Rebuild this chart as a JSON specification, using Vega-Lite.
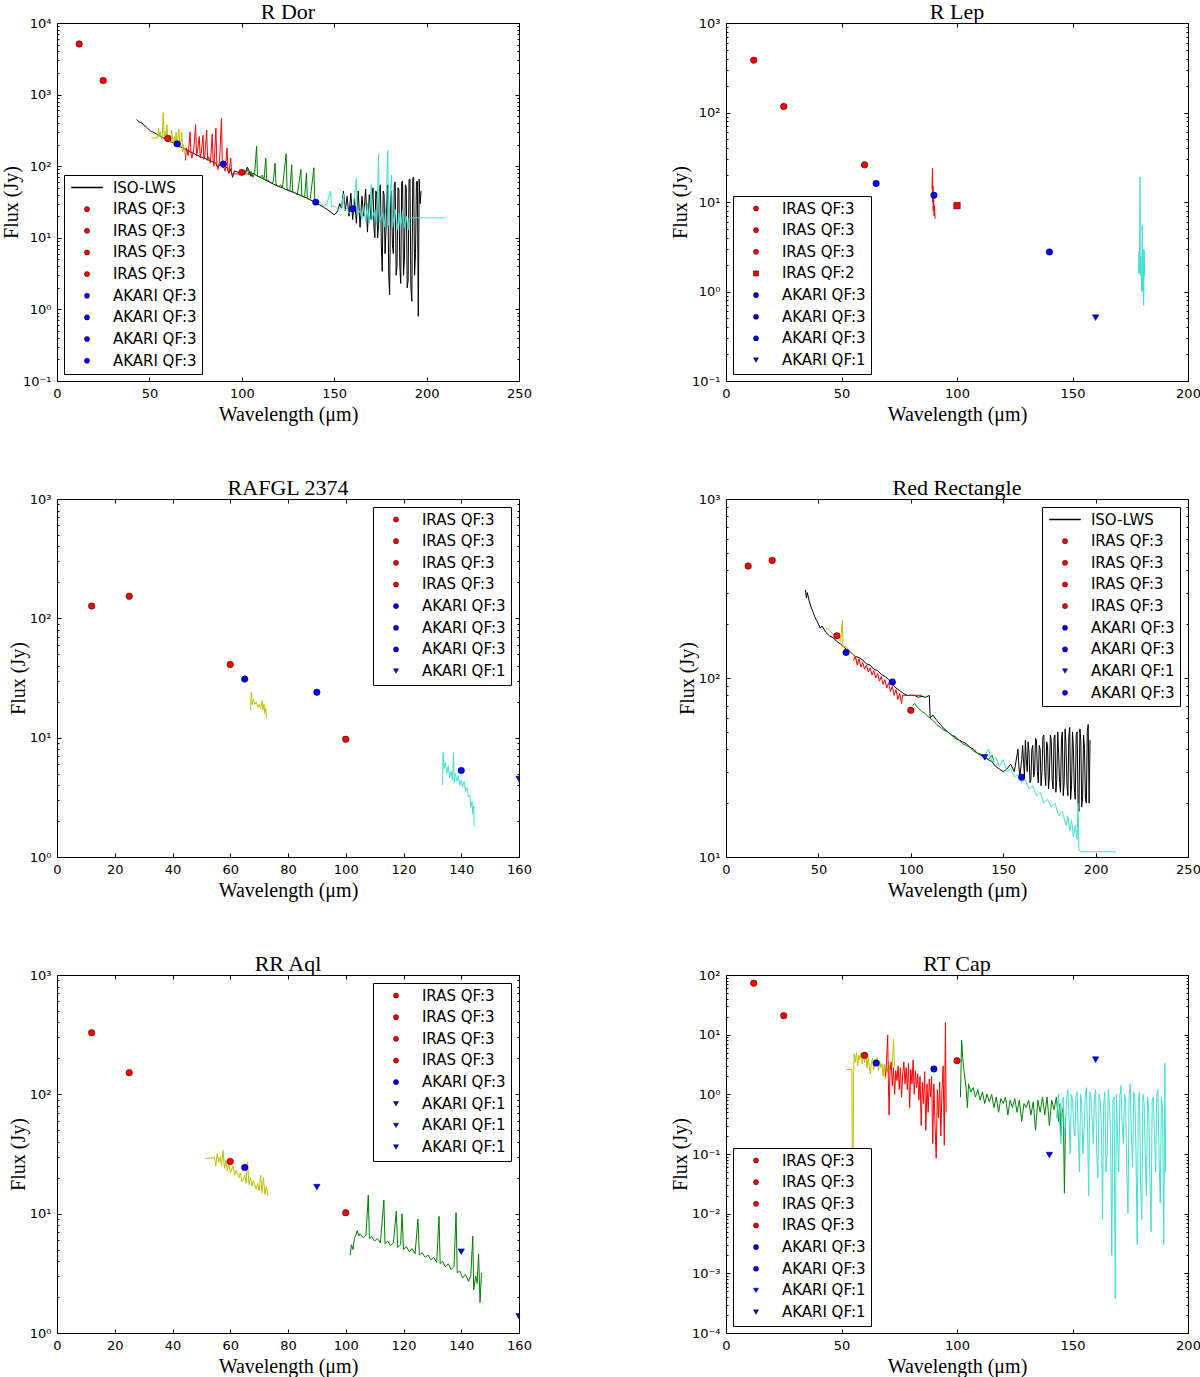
{
  "$schema": "https://vega.github.io/schema/vega-lite/v6.json",
  "background": "white",
  "autosize": {"type": "pad"},
  "padding": {"left": 0, "top": 0, "right": 0, "bottom": 0},
  "columns": 2,
  "bounds": "flush",
  "spacing": {"column": 207, "row": 118},
  "resolve": {"scale": {"x": "independent", "y": "independent", "color": "independent", "shape": "independent"}, "legend": {"color": "independent", "shape": "independent"}},
  "datasets": {
    "spec": [
      {"p":"rdor","s":"a","x":43,"y":450},{"p":"rdor","s":"a","x":43.5,"y":440},{"p":"rdor","s":"a","x":44,"y":420},{"p":"rdor","s":"a","x":45,"y":410},{"p":"rdor","s":"a","x":46,"y":400},{"p":"rdor","s":"a","x":47,"y":370},{"p":"rdor","s":"a","x":48,"y":360},{"p":"rdor","s":"a","x":49,"y":340},{"p":"rdor","s":"a","x":50,"y":320},{"p":"rdor","s":"a","x":51,"y":305},{"p":"rdor","s":"a","x":52,"y":300},{"p":"rdor","s":"a","x":53,"y":290},{"p":"rdor","s":"a","x":54,"y":280},{"p":"rdor","s":"a","x":55,"y":270},{"p":"rdor","s":"a","x":56,"y":262},{"p":"rdor","s":"a","x":57,"y":255},{"p":"rdor","s":"a","x":58,"y":245},{"p":"rdor","s":"a","x":60,"y":232},{"p":"rdor","s":"a","x":62,"y":218},{"p":"rdor","s":"a","x":64,"y":205},{"p":"rdor","s":"a","x":66,"y":192},{"p":"rdor","s":"a","x":68,"y":180},{"p":"rdor","s":"a","x":70,"y":170},{"p":"rdor","s":"a","x":72,"y":160},{"p":"rdor","s":"a","x":74,"y":150},{"p":"rdor","s":"a","x":76,"y":142},{"p":"rdor","s":"a","x":78,"y":135},{"p":"rdor","s":"a","x":80,"y":128},{"p":"rdor","s":"a","x":82,"y":122},{"p":"rdor","s":"a","x":84,"y":116},{"p":"rdor","s":"a","x":86,"y":110},{"p":"rdor","s":"a","x":87,"y":95},{"p":"rdor","s":"a","x":88,"y":105},{"p":"rdor","s":"a","x":90,"y":100},{"p":"rdor","s":"a","x":92,"y":96},{"p":"rdor","s":"a","x":93,"y":80},{"p":"rdor","s":"a","x":94,"y":92},{"p":"rdor","s":"a","x":95,"y":70},{"p":"rdor","s":"a","x":96,"y":86},{"p":"rdor","s":"a","x":98,"y":82},{"p":"rdor","s":"a","x":100,"y":85},{"p":"rdor","s":"a","x":101,"y":78},{"p":"rdor","s":"a","x":102,"y":83},{"p":"rdor","s":"a","x":103,"y":97},{"p":"rdor","s":"a","x":104,"y":85},{"p":"rdor","s":"a","x":105,"y":72},{"p":"rdor","s":"a","x":106,"y":80},{"p":"rdor","s":"a","x":108,"y":74},{"p":"rdor","s":"a","x":110,"y":70},{"p":"rdor","s":"a","x":112,"y":66},{"p":"rdor","s":"a","x":114,"y":62},{"p":"rdor","s":"a","x":116,"y":58},{"p":"rdor","s":"a","x":118,"y":55},{"p":"rdor","s":"a","x":120,"y":52},{"p":"rdor","s":"a","x":122,"y":50},{"p":"rdor","s":"a","x":124,"y":47},{"p":"rdor","s":"a","x":126,"y":45},{"p":"rdor","s":"a","x":128,"y":43},{"p":"rdor","s":"a","x":130,"y":41},{"p":"rdor","s":"a","x":132,"y":39},{"p":"rdor","s":"a","x":134,"y":37},{"p":"rdor","s":"a","x":136,"y":35},{"p":"rdor","s":"a","x":138,"y":33},{"p":"rdor","s":"a","x":140,"y":31},{"p":"rdor","s":"a","x":142,"y":29},{"p":"rdor","s":"a","x":144,"y":27},{"p":"rdor","s":"a","x":146,"y":25},{"p":"rdor","s":"a","x":148,"y":23},{"p":"rdor","s":"a","x":150,"y":21},{"p":"rdor","s":"a","x":151,"y":22},{"p":"rdor","s":"a","x":152,"y":24},{"p":"rdor","s":"a","x":153,"y":30},{"p":"rdor","s":"a","x":154,"y":26},{"p":"rdor","s":"a","x":155,"y":45},{"p":"rdor","s":"a","x":156,"y":24},{"p":"rdor","s":"a","x":157,"y":38},{"p":"rdor","s":"a","x":158,"y":20},{"p":"rdor","s":"a","x":159,"y":42},{"p":"rdor","s":"a","x":160,"y":18},{"p":"rdor","s":"a","x":161,"y":35},{"p":"rdor","s":"a","x":162,"y":16},{"p":"rdor","s":"a","x":163,"y":45},{"p":"rdor","s":"a","x":164,"y":14},{"p":"rdor","s":"a","x":165,"y":38},{"p":"rdor","s":"a","x":166,"y":20},{"p":"rdor","s":"a","x":167,"y":48},{"p":"rdor","s":"a","x":168,"y":12},{"p":"rdor","s":"a","x":169,"y":40},{"p":"rdor","s":"a","x":170,"y":18},{"p":"rdor","s":"a","x":170.5,"y":40},{"p":"rdor","s":"a","x":171,"y":50},{"p":"rdor","s":"a","x":171.5,"y":14},{"p":"rdor","s":"a","x":172,"y":10},{"p":"rdor","s":"a","x":172.5,"y":45},{"p":"rdor","s":"a","x":173,"y":42},{"p":"rdor","s":"a","x":173.5,"y":10},{"p":"rdor","s":"a","x":174,"y":15},{"p":"rdor","s":"a","x":174.5,"y":50},{"p":"rdor","s":"a","x":175,"y":55},{"p":"rdor","s":"a","x":175.5,"y":8},{"p":"rdor","s":"a","x":176,"y":3.4},{"p":"rdor","s":"a","x":176.5,"y":45},{"p":"rdor","s":"a","x":177,"y":40},{"p":"rdor","s":"a","x":177.5,"y":6},{"p":"rdor","s":"a","x":178,"y":12},{"p":"rdor","s":"a","x":178.5,"y":50},{"p":"rdor","s":"a","x":179,"y":55},{"p":"rdor","s":"a","x":179.5,"y":3},{"p":"rdor","s":"a","x":180,"y":1.6},{"p":"rdor","s":"a","x":180.5,"y":40},{"p":"rdor","s":"a","x":181,"y":45},{"p":"rdor","s":"a","x":181.5,"y":8},{"p":"rdor","s":"a","x":182,"y":6},{"p":"rdor","s":"a","x":182.5,"y":55},{"p":"rdor","s":"a","x":183,"y":60},{"p":"rdor","s":"a","x":183.5,"y":3},{"p":"rdor","s":"a","x":184,"y":4},{"p":"rdor","s":"a","x":184.5,"y":50},{"p":"rdor","s":"a","x":185,"y":48},{"p":"rdor","s":"a","x":185.5,"y":4},{"p":"rdor","s":"a","x":186,"y":2.3},{"p":"rdor","s":"a","x":186.5,"y":60},{"p":"rdor","s":"a","x":187,"y":62},{"p":"rdor","s":"a","x":187.5,"y":3},{"p":"rdor","s":"a","x":188,"y":5},{"p":"rdor","s":"a","x":188.5,"y":55},{"p":"rdor","s":"a","x":189,"y":50},{"p":"rdor","s":"a","x":189.5,"y":2},{"p":"rdor","s":"a","x":190,"y":2.5},{"p":"rdor","s":"a","x":190.5,"y":65},{"p":"rdor","s":"a","x":191,"y":66},{"p":"rdor","s":"a","x":191.5,"y":2},{"p":"rdor","s":"a","x":192,"y":1.3},{"p":"rdor","s":"a","x":192.5,"y":68},{"p":"rdor","s":"a","x":193,"y":70},{"p":"rdor","s":"a","x":193.5,"y":3},{"p":"rdor","s":"a","x":194,"y":6},{"p":"rdor","s":"a","x":194.5,"y":60},{"p":"rdor","s":"a","x":195,"y":62},{"p":"rdor","s":"a","x":195.5,"y":0.8},{"p":"rdor","s":"a","x":196,"y":66},{"p":"rdor","s":"a","x":196.5,"y":30},{"p":"rdor","s":"a","x":197,"y":45},
      {"p":"rdor","s":"b","x":51,"y":245},{"p":"rdor","s":"b","x":54.5,"y":250},{"p":"rdor","s":"b","x":55,"y":340},{"p":"rdor","s":"b","x":55.5,"y":260},{"p":"rdor","s":"b","x":56,"y":300},{"p":"rdor","s":"b","x":56.5,"y":240},{"p":"rdor","s":"b","x":57,"y":280},{"p":"rdor","s":"b","x":57.5,"y":560},{"p":"rdor","s":"b","x":58,"y":250},{"p":"rdor","s":"b","x":58.5,"y":310},{"p":"rdor","s":"b","x":59,"y":230},{"p":"rdor","s":"b","x":59.5,"y":380},{"p":"rdor","s":"b","x":60,"y":220},{"p":"rdor","s":"b","x":61,"y":270},{"p":"rdor","s":"b","x":61.5,"y":210},{"p":"rdor","s":"b","x":62,"y":320},{"p":"rdor","s":"b","x":63,"y":200},{"p":"rdor","s":"b","x":63.5,"y":260},{"p":"rdor","s":"b","x":64,"y":190},{"p":"rdor","s":"b","x":64.5,"y":300},{"p":"rdor","s":"b","x":65,"y":185},{"p":"rdor","s":"b","x":66,"y":330},{"p":"rdor","s":"b","x":66.5,"y":180},{"p":"rdor","s":"b","x":67,"y":220},{"p":"rdor","s":"b","x":67.5,"y":300},{"p":"rdor","s":"b","x":68,"y":160},{"p":"rdor","s":"b","x":68.5,"y":200},{"p":"rdor","s":"b","x":69,"y":150},
      {"p":"rdor","s":"c","x":69.5,"y":120},{"p":"rdor","s":"c","x":70,"y":180},{"p":"rdor","s":"c","x":71,"y":140},{"p":"rdor","s":"c","x":72,"y":300},{"p":"rdor","s":"c","x":72.5,"y":150},{"p":"rdor","s":"c","x":73,"y":130},{"p":"rdor","s":"c","x":74,"y":170},{"p":"rdor","s":"c","x":75,"y":380},{"p":"rdor","s":"c","x":75.5,"y":140},{"p":"rdor","s":"c","x":76,"y":160},{"p":"rdor","s":"c","x":77,"y":260},{"p":"rdor","s":"c","x":77.5,"y":130},{"p":"rdor","s":"c","x":78,"y":150},{"p":"rdor","s":"c","x":79,"y":270},{"p":"rdor","s":"c","x":79.5,"y":125},{"p":"rdor","s":"c","x":80,"y":140},{"p":"rdor","s":"c","x":81,"y":320},{"p":"rdor","s":"c","x":81.5,"y":120},{"p":"rdor","s":"c","x":82,"y":135},{"p":"rdor","s":"c","x":83,"y":110},{"p":"rdor","s":"c","x":84,"y":280},{"p":"rdor","s":"c","x":84.5,"y":115},{"p":"rdor","s":"c","x":85,"y":100},{"p":"rdor","s":"c","x":86,"y":340},{"p":"rdor","s":"c","x":86.5,"y":105},{"p":"rdor","s":"c","x":87,"y":90},{"p":"rdor","s":"c","x":88,"y":120},{"p":"rdor","s":"c","x":89,"y":465},{"p":"rdor","s":"c","x":89.5,"y":95},{"p":"rdor","s":"c","x":90,"y":100},{"p":"rdor","s":"c","x":91,"y":85},{"p":"rdor","s":"c","x":92,"y":180},{"p":"rdor","s":"c","x":92.5,"y":90},{"p":"rdor","s":"c","x":93,"y":80},{"p":"rdor","s":"c","x":94,"y":130},{"p":"rdor","s":"c","x":94.5,"y":78},{"p":"rdor","s":"c","x":95,"y":78},{"p":"rdor","s":"c","x":105,"y":78},
      {"p":"rdor","s":"d","x":102,"y":80},{"p":"rdor","s":"d","x":103,"y":90},{"p":"rdor","s":"d","x":104,"y":75},{"p":"rdor","s":"d","x":105,"y":85},{"p":"rdor","s":"d","x":106,"y":70},{"p":"rdor","s":"d","x":107,"y":80},{"p":"rdor","s":"d","x":108,"y":190},{"p":"rdor","s":"d","x":108.5,"y":72},{"p":"rdor","s":"d","x":110,"y":70},{"p":"rdor","s":"d","x":111,"y":75},{"p":"rdor","s":"d","x":112,"y":65},{"p":"rdor","s":"d","x":113,"y":130},{"p":"rdor","s":"d","x":113.5,"y":64},{"p":"rdor","s":"d","x":115,"y":62},{"p":"rdor","s":"d","x":116,"y":58},{"p":"rdor","s":"d","x":117,"y":60},{"p":"rdor","s":"d","x":118,"y":110},{"p":"rdor","s":"d","x":118.5,"y":56},{"p":"rdor","s":"d","x":120,"y":52},{"p":"rdor","s":"d","x":121,"y":55},{"p":"rdor","s":"d","x":122,"y":50},{"p":"rdor","s":"d","x":124,"y":150},{"p":"rdor","s":"d","x":124.5,"y":48},{"p":"rdor","s":"d","x":126,"y":45},{"p":"rdor","s":"d","x":127,"y":105},{"p":"rdor","s":"d","x":127.5,"y":44},{"p":"rdor","s":"d","x":129,"y":42},{"p":"rdor","s":"d","x":130,"y":40},{"p":"rdor","s":"d","x":132,"y":90},{"p":"rdor","s":"d","x":132.5,"y":38},{"p":"rdor","s":"d","x":134,"y":37},{"p":"rdor","s":"d","x":135,"y":80},{"p":"rdor","s":"d","x":135.5,"y":35},{"p":"rdor","s":"d","x":137,"y":34},{"p":"rdor","s":"d","x":139,"y":95},{"p":"rdor","s":"d","x":139.5,"y":31},{"p":"rdor","s":"d","x":140,"y":30},
      {"p":"rdor","s":"e","x":138,"y":33},{"p":"rdor","s":"e","x":140,"y":30},{"p":"rdor","s":"e","x":142,"y":32},{"p":"rdor","s":"e","x":144,"y":28},{"p":"rdor","s":"e","x":146,"y":30},{"p":"rdor","s":"e","x":148,"y":45},{"p":"rdor","s":"e","x":148.5,"y":27},{"p":"rdor","s":"e","x":150,"y":28},{"p":"rdor","s":"e","x":152,"y":25},{"p":"rdor","s":"e","x":154,"y":27},{"p":"rdor","s":"e","x":155,"y":41},{"p":"rdor","s":"e","x":155.5,"y":24},{"p":"rdor","s":"e","x":157,"y":26},{"p":"rdor","s":"e","x":158,"y":22},{"p":"rdor","s":"e","x":160,"y":23},{"p":"rdor","s":"e","x":162,"y":68},{"p":"rdor","s":"e","x":162.5,"y":20},{"p":"rdor","s":"e","x":164,"y":24},{"p":"rdor","s":"e","x":165,"y":18},{"p":"rdor","s":"e","x":166,"y":28},{"p":"rdor","s":"e","x":167,"y":17},{"p":"rdor","s":"e","x":168,"y":30},{"p":"rdor","s":"e","x":169,"y":16},{"p":"rdor","s":"e","x":170,"y":55},{"p":"rdor","s":"e","x":170.5,"y":18},{"p":"rdor","s":"e","x":172,"y":25},{"p":"rdor","s":"e","x":173,"y":15},{"p":"rdor","s":"e","x":174,"y":148},{"p":"rdor","s":"e","x":174.5,"y":17},{"p":"rdor","s":"e","x":176,"y":22},{"p":"rdor","s":"e","x":177,"y":14},{"p":"rdor","s":"e","x":178,"y":28},{"p":"rdor","s":"e","x":179,"y":166},{"p":"rdor","s":"e","x":179.5,"y":15},{"p":"rdor","s":"e","x":181,"y":75},{"p":"rdor","s":"e","x":181.5,"y":14},{"p":"rdor","s":"e","x":183,"y":25},{"p":"rdor","s":"e","x":184,"y":13},{"p":"rdor","s":"e","x":185,"y":22},{"p":"rdor","s":"e","x":186,"y":13},{"p":"rdor","s":"e","x":187,"y":24},{"p":"rdor","s":"e","x":188,"y":14},{"p":"rdor","s":"e","x":189,"y":20},{"p":"rdor","s":"e","x":190,"y":13},{"p":"rdor","s":"e","x":190.5,"y":19},{"p":"rdor","s":"e","x":210,"y":19},

      {"p":"rlep","s":"c","x":89.2,"y":14},{"p":"rlep","s":"c","x":89.4,"y":24},{"p":"rlep","s":"c","x":89.5,"y":10},{"p":"rlep","s":"c","x":89.6,"y":15},{"p":"rlep","s":"c","x":89.7,"y":8},{"p":"rlep","s":"c","x":89.9,"y":12},{"p":"rlep","s":"c","x":90.1,"y":7},{"p":"rlep","s":"c","x":90.3,"y":9},{"p":"rlep","s":"c","x":90.5,"y":6.5},
      {"p":"rlep","s":"e","x":178.6,"y":1.6},{"p":"rlep","s":"e","x":178.8,"y":2.8},{"p":"rlep","s":"e","x":179,"y":1.6},{"p":"rlep","s":"e","x":179.2,"y":19},{"p":"rlep","s":"e","x":179.4,"y":1.5},{"p":"rlep","s":"e","x":179.6,"y":2.5},{"p":"rlep","s":"e","x":180,"y":1.0},{"p":"rlep","s":"e","x":180.2,"y":5.5},{"p":"rlep","s":"e","x":180.4,"y":1.0},{"p":"rlep","s":"e","x":180.6,"y":3},{"p":"rlep","s":"e","x":180.8,"y":0.7},{"p":"rlep","s":"e","x":181,"y":2.9},{"p":"rlep","s":"e","x":181.2,"y":1.5},

      {"p":"afgl","s":"b","x":67,"y":17},{"p":"afgl","s":"b","x":67.3,"y":24},{"p":"afgl","s":"b","x":67.6,"y":19},{"p":"afgl","s":"b","x":68,"y":21},{"p":"afgl","s":"b","x":68.5,"y":19},{"p":"afgl","s":"b","x":69,"y":20},{"p":"afgl","s":"b","x":69.5,"y":18},{"p":"afgl","s":"b","x":70,"y":19},{"p":"afgl","s":"b","x":70.5,"y":17.5},{"p":"afgl","s":"b","x":71,"y":20.5},{"p":"afgl","s":"b","x":71.3,"y":17},{"p":"afgl","s":"b","x":71.7,"y":19},{"p":"afgl","s":"b","x":72,"y":16},{"p":"afgl","s":"b","x":72.3,"y":17.5},{"p":"afgl","s":"b","x":72.5,"y":14.5},
      {"p":"afgl","s":"e","x":133.5,"y":4.0},{"p":"afgl","s":"e","x":133.7,"y":7.5},{"p":"afgl","s":"e","x":134,"y":5.5},{"p":"afgl","s":"e","x":134.5,"y":6.2},{"p":"afgl","s":"e","x":135,"y":5.0},{"p":"afgl","s":"e","x":135.5,"y":5.8},{"p":"afgl","s":"e","x":136,"y":4.6},{"p":"afgl","s":"e","x":136.5,"y":5.2},{"p":"afgl","s":"e","x":137,"y":4.4},{"p":"afgl","s":"e","x":137.3,"y":7.5},{"p":"afgl","s":"e","x":137.6,"y":4.2},{"p":"afgl","s":"e","x":138,"y":5.0},{"p":"afgl","s":"e","x":138.5,"y":4.3},{"p":"afgl","s":"e","x":139,"y":4.8},{"p":"afgl","s":"e","x":139.5,"y":4.0},{"p":"afgl","s":"e","x":140,"y":4.4},{"p":"afgl","s":"e","x":140.5,"y":3.9},{"p":"afgl","s":"e","x":141,"y":4.3},{"p":"afgl","s":"e","x":141.5,"y":3.6},{"p":"afgl","s":"e","x":142,"y":3.8},{"p":"afgl","s":"e","x":142.5,"y":3.2},{"p":"afgl","s":"e","x":143,"y":3.3},{"p":"afgl","s":"e","x":143.3,"y":2.6},{"p":"afgl","s":"e","x":143.7,"y":2.9},{"p":"afgl","s":"e","x":144,"y":2.3},{"p":"afgl","s":"e","x":144.3,"y":2.7},{"p":"afgl","s":"e","x":144.5,"y":1.8},

      {"p":"rrec","s":"a","x":43,"y":310},{"p":"rrec","s":"a","x":43.5,"y":280},{"p":"rrec","s":"a","x":44,"y":300},{"p":"rrec","s":"a","x":45,"y":270},{"p":"rrec","s":"a","x":46,"y":250},{"p":"rrec","s":"a","x":47,"y":235},{"p":"rrec","s":"a","x":48,"y":220},{"p":"rrec","s":"a","x":49,"y":210},{"p":"rrec","s":"a","x":50,"y":200},{"p":"rrec","s":"a","x":51,"y":190},{"p":"rrec","s":"a","x":52,"y":195},{"p":"rrec","s":"a","x":54,"y":180},{"p":"rrec","s":"a","x":56,"y":172},{"p":"rrec","s":"a","x":58,"y":168},{"p":"rrec","s":"a","x":60,"y":160},{"p":"rrec","s":"a","x":62,"y":155},{"p":"rrec","s":"a","x":64,"y":148},{"p":"rrec","s":"a","x":66,"y":142},{"p":"rrec","s":"a","x":68,"y":138},{"p":"rrec","s":"a","x":70,"y":132},{"p":"rrec","s":"a","x":72,"y":130},{"p":"rrec","s":"a","x":74,"y":126},{"p":"rrec","s":"a","x":76,"y":120},{"p":"rrec","s":"a","x":78,"y":118},{"p":"rrec","s":"a","x":80,"y":112},{"p":"rrec","s":"a","x":82,"y":110},{"p":"rrec","s":"a","x":84,"y":105},{"p":"rrec","s":"a","x":86,"y":102},{"p":"rrec","s":"a","x":88,"y":98},{"p":"rrec","s":"a","x":90,"y":92},{"p":"rrec","s":"a","x":92,"y":88},{"p":"rrec","s":"a","x":94,"y":85},{"p":"rrec","s":"a","x":96,"y":82},{"p":"rrec","s":"a","x":98,"y":80},{"p":"rrec","s":"a","x":100,"y":80},{"p":"rrec","s":"a","x":102,"y":80},{"p":"rrec","s":"a","x":104,"y":78},{"p":"rrec","s":"a","x":106,"y":79},{"p":"rrec","s":"a","x":108,"y":78},{"p":"rrec","s":"a","x":110,"y":80},{"p":"rrec","s":"a","x":110.5,"y":60},{"p":"rrec","s":"a","x":112,"y":62},{"p":"rrec","s":"a","x":114,"y":58},{"p":"rrec","s":"a","x":116,"y":55},{"p":"rrec","s":"a","x":118,"y":52},{"p":"rrec","s":"a","x":120,"y":50},{"p":"rrec","s":"a","x":122,"y":48},{"p":"rrec","s":"a","x":124,"y":47},{"p":"rrec","s":"a","x":126,"y":45},{"p":"rrec","s":"a","x":128,"y":44},{"p":"rrec","s":"a","x":130,"y":43},{"p":"rrec","s":"a","x":132,"y":41},{"p":"rrec","s":"a","x":134,"y":40},{"p":"rrec","s":"a","x":136,"y":38},{"p":"rrec","s":"a","x":138,"y":37},{"p":"rrec","s":"a","x":140,"y":36},{"p":"rrec","s":"a","x":142,"y":35},{"p":"rrec","s":"a","x":144,"y":34},{"p":"rrec","s":"a","x":146,"y":32},{"p":"rrec","s":"a","x":148,"y":31},{"p":"rrec","s":"a","x":150,"y":30},{"p":"rrec","s":"a","x":152,"y":31},{"p":"rrec","s":"a","x":154,"y":33},{"p":"rrec","s":"a","x":156,"y":30},{"p":"rrec","s":"a","x":158,"y":40},{"p":"rrec","s":"a","x":158.5,"y":32},{"p":"rrec","s":"a","x":159,"y":28},{"p":"rrec","s":"a","x":160,"y":35},{"p":"rrec","s":"a","x":160.5,"y":42},{"p":"rrec","s":"a","x":161.5,"y":28},{"p":"rrec","s":"a","x":162,"y":45},{"p":"rrec","s":"a","x":162.5,"y":35},{"p":"rrec","s":"a","x":163,"y":30},{"p":"rrec","s":"a","x":163.5,"y":44},{"p":"rrec","s":"a","x":164,"y":38},{"p":"rrec","s":"a","x":164.5,"y":26},{"p":"rrec","s":"a","x":165,"y":27},{"p":"rrec","s":"a","x":165.5,"y":40},{"p":"rrec","s":"a","x":166,"y":42},{"p":"rrec","s":"a","x":166.5,"y":28},{"p":"rrec","s":"a","x":167,"y":30},{"p":"rrec","s":"a","x":167.5,"y":46},{"p":"rrec","s":"a","x":168,"y":45},{"p":"rrec","s":"a","x":168.5,"y":30},{"p":"rrec","s":"a","x":169,"y":26},{"p":"rrec","s":"a","x":169.5,"y":42},{"p":"rrec","s":"a","x":170,"y":40},{"p":"rrec","s":"a","x":170.5,"y":25},{"p":"rrec","s":"a","x":171,"y":30},{"p":"rrec","s":"a","x":171.5,"y":47},{"p":"rrec","s":"a","x":172,"y":48},{"p":"rrec","s":"a","x":172.5,"y":30},{"p":"rrec","s":"a","x":173,"y":25},{"p":"rrec","s":"a","x":173.5,"y":44},{"p":"rrec","s":"a","x":174,"y":42},{"p":"rrec","s":"a","x":174.5,"y":24},{"p":"rrec","s":"a","x":175,"y":28},{"p":"rrec","s":"a","x":175.5,"y":48},{"p":"rrec","s":"a","x":176,"y":45},{"p":"rrec","s":"a","x":176.5,"y":27},{"p":"rrec","s":"a","x":177,"y":24},{"p":"rrec","s":"a","x":177.5,"y":46},{"p":"rrec","s":"a","x":178,"y":48},{"p":"rrec","s":"a","x":178.5,"y":23},{"p":"rrec","s":"a","x":179,"y":27},{"p":"rrec","s":"a","x":179.5,"y":50},{"p":"rrec","s":"a","x":180,"y":38},{"p":"rrec","s":"a","x":180.5,"y":26},{"p":"rrec","s":"a","x":181,"y":23},{"p":"rrec","s":"a","x":181.5,"y":45},{"p":"rrec","s":"a","x":182,"y":50},{"p":"rrec","s":"a","x":182.5,"y":22},{"p":"rrec","s":"a","x":183,"y":26},{"p":"rrec","s":"a","x":183.5,"y":52},{"p":"rrec","s":"a","x":184,"y":42},{"p":"rrec","s":"a","x":184.5,"y":25},{"p":"rrec","s":"a","x":185,"y":22},{"p":"rrec","s":"a","x":185.5,"y":47},{"p":"rrec","s":"a","x":186,"y":53},{"p":"rrec","s":"a","x":186.5,"y":21},{"p":"rrec","s":"a","x":187,"y":25},{"p":"rrec","s":"a","x":187.5,"y":50},{"p":"rrec","s":"a","x":188,"y":40},{"p":"rrec","s":"a","x":188.5,"y":24},{"p":"rrec","s":"a","x":189,"y":21},{"p":"rrec","s":"a","x":189.5,"y":48},{"p":"rrec","s":"a","x":190,"y":50},{"p":"rrec","s":"a","x":190.5,"y":20},{"p":"rrec","s":"a","x":191,"y":18},{"p":"rrec","s":"a","x":191.5,"y":52},{"p":"rrec","s":"a","x":192,"y":45},{"p":"rrec","s":"a","x":192.5,"y":19},{"p":"rrec","s":"a","x":193,"y":22},{"p":"rrec","s":"a","x":193.5,"y":48},{"p":"rrec","s":"a","x":194,"y":40},{"p":"rrec","s":"a","x":194.5,"y":21},{"p":"rrec","s":"a","x":195,"y":20},{"p":"rrec","s":"a","x":195.5,"y":50},{"p":"rrec","s":"a","x":196,"y":55},{"p":"rrec","s":"a","x":196.5,"y":20},{"p":"rrec","s":"a","x":197,"y":45},
      {"p":"rrec","s":"b","x":54,"y":190},{"p":"rrec","s":"b","x":56,"y":185},{"p":"rrec","s":"b","x":58,"y":175},{"p":"rrec","s":"b","x":60,"y":170},{"p":"rrec","s":"b","x":62,"y":160},{"p":"rrec","s":"b","x":63,"y":210},{"p":"rrec","s":"b","x":63.3,"y":150},{"p":"rrec","s":"b","x":65,"y":150},{"p":"rrec","s":"b","x":67,"y":140},{"p":"rrec","s":"b","x":69,"y":135},{"p":"rrec","s":"b","x":71,"y":125},{"p":"rrec","s":"b","x":72,"y":120},
      {"p":"rrec","s":"c","x":69,"y":125},{"p":"rrec","s":"c","x":70,"y":132},{"p":"rrec","s":"c","x":71,"y":118},{"p":"rrec","s":"c","x":72,"y":128},{"p":"rrec","s":"c","x":73,"y":115},{"p":"rrec","s":"c","x":74,"y":122},{"p":"rrec","s":"c","x":75,"y":112},{"p":"rrec","s":"c","x":76,"y":118},{"p":"rrec","s":"c","x":77,"y":108},{"p":"rrec","s":"c","x":78,"y":114},{"p":"rrec","s":"c","x":79,"y":104},{"p":"rrec","s":"c","x":80,"y":110},{"p":"rrec","s":"c","x":81,"y":100},{"p":"rrec","s":"c","x":82,"y":106},{"p":"rrec","s":"c","x":83,"y":96},{"p":"rrec","s":"c","x":84,"y":102},{"p":"rrec","s":"c","x":85,"y":92},{"p":"rrec","s":"c","x":86,"y":98},{"p":"rrec","s":"c","x":87,"y":88},{"p":"rrec","s":"c","x":88,"y":94},{"p":"rrec","s":"c","x":89,"y":84},{"p":"rrec","s":"c","x":90,"y":90},{"p":"rrec","s":"c","x":91,"y":80},{"p":"rrec","s":"c","x":92,"y":86},{"p":"rrec","s":"c","x":93,"y":76},{"p":"rrec","s":"c","x":94,"y":82},{"p":"rrec","s":"c","x":95,"y":72},{"p":"rrec","s":"c","x":95.5,"y":80},{"p":"rrec","s":"c","x":106,"y":80},
      {"p":"rrec","s":"d","x":101,"y":70},{"p":"rrec","s":"d","x":102,"y":72},{"p":"rrec","s":"d","x":104,"y":68},{"p":"rrec","s":"d","x":106,"y":65},{"p":"rrec","s":"d","x":108,"y":63},{"p":"rrec","s":"d","x":110,"y":60},{"p":"rrec","s":"d","x":112,"y":58},{"p":"rrec","s":"d","x":114,"y":55},{"p":"rrec","s":"d","x":116,"y":53},{"p":"rrec","s":"d","x":118,"y":51},{"p":"rrec","s":"d","x":120,"y":50},{"p":"rrec","s":"d","x":122,"y":48},{"p":"rrec","s":"d","x":124,"y":46},{"p":"rrec","s":"d","x":126,"y":45},{"p":"rrec","s":"d","x":128,"y":43},{"p":"rrec","s":"d","x":130,"y":42},{"p":"rrec","s":"d","x":132,"y":41},{"p":"rrec","s":"d","x":134,"y":39},{"p":"rrec","s":"d","x":136,"y":38},{"p":"rrec","s":"d","x":138,"y":37.5},{"p":"rrec","s":"d","x":140,"y":36},{"p":"rrec","s":"d","x":142,"y":35},{"p":"rrec","s":"d","x":144,"y":37},{"p":"rrec","s":"d","x":145,"y":34},
      {"p":"rrec","s":"e","x":140,"y":37},{"p":"rrec","s":"e","x":142,"y":40},{"p":"rrec","s":"e","x":144,"y":34},{"p":"rrec","s":"e","x":146,"y":36},{"p":"rrec","s":"e","x":148,"y":32},{"p":"rrec","s":"e","x":150,"y":35},{"p":"rrec","s":"e","x":152,"y":30},{"p":"rrec","s":"e","x":154,"y":31},{"p":"rrec","s":"e","x":156,"y":28},{"p":"rrec","s":"e","x":158,"y":29},{"p":"rrec","s":"e","x":160,"y":26},{"p":"rrec","s":"e","x":162,"y":27},{"p":"rrec","s":"e","x":164,"y":24},{"p":"rrec","s":"e","x":166,"y":25},{"p":"rrec","s":"e","x":168,"y":22},{"p":"rrec","s":"e","x":170,"y":23},{"p":"rrec","s":"e","x":172,"y":20},{"p":"rrec","s":"e","x":174,"y":21},{"p":"rrec","s":"e","x":176,"y":19},{"p":"rrec","s":"e","x":178,"y":20},{"p":"rrec","s":"e","x":180,"y":17},{"p":"rrec","s":"e","x":182,"y":18},{"p":"rrec","s":"e","x":184,"y":15},{"p":"rrec","s":"e","x":185,"y":17},{"p":"rrec","s":"e","x":186,"y":14},{"p":"rrec","s":"e","x":187,"y":16},{"p":"rrec","s":"e","x":188,"y":13},{"p":"rrec","s":"e","x":189,"y":15},{"p":"rrec","s":"e","x":190,"y":12.5},{"p":"rrec","s":"e","x":190.5,"y":20},{"p":"rrec","s":"e","x":191,"y":11},{"p":"rrec","s":"e","x":191.5,"y":10.8},{"p":"rrec","s":"e","x":192,"y":10.7},{"p":"rrec","s":"e","x":211,"y":10.7},

      {"p":"rraql","s":"b","x":51.5,"y":29},{"p":"rraql","s":"b","x":54.5,"y":29.5},{"p":"rraql","s":"b","x":55,"y":25},{"p":"rraql","s":"b","x":55.5,"y":32},{"p":"rraql","s":"b","x":56,"y":27},{"p":"rraql","s":"b","x":56.5,"y":30},{"p":"rraql","s":"b","x":57,"y":25},{"p":"rraql","s":"b","x":57.5,"y":34},{"p":"rraql","s":"b","x":58,"y":24},{"p":"rraql","s":"b","x":58.5,"y":28},{"p":"rraql","s":"b","x":59,"y":23},{"p":"rraql","s":"b","x":59.5,"y":26},{"p":"rraql","s":"b","x":60,"y":22},{"p":"rraql","s":"b","x":61,"y":25},{"p":"rraql","s":"b","x":61.5,"y":21},{"p":"rraql","s":"b","x":62,"y":23},{"p":"rraql","s":"b","x":63,"y":20},{"p":"rraql","s":"b","x":63.5,"y":22},{"p":"rraql","s":"b","x":64,"y":18.5},{"p":"rraql","s":"b","x":65,"y":21},{"p":"rraql","s":"b","x":65.5,"y":18},{"p":"rraql","s":"b","x":66,"y":27},{"p":"rraql","s":"b","x":66.5,"y":17.5},{"p":"rraql","s":"b","x":67,"y":20},{"p":"rraql","s":"b","x":67.5,"y":17},{"p":"rraql","s":"b","x":68,"y":19},{"p":"rraql","s":"b","x":69,"y":16},{"p":"rraql","s":"b","x":69.5,"y":18},{"p":"rraql","s":"b","x":70,"y":15.5},{"p":"rraql","s":"b","x":70.5,"y":21},{"p":"rraql","s":"b","x":71,"y":15},{"p":"rraql","s":"b","x":71.5,"y":20},{"p":"rraql","s":"b","x":72,"y":14.5},{"p":"rraql","s":"b","x":72.5,"y":17},{"p":"rraql","s":"b","x":73,"y":14},
      {"p":"rraql","s":"d","x":101.5,"y":4.5},{"p":"rraql","s":"d","x":102,"y":5.5},{"p":"rraql","s":"d","x":102.5,"y":5.0},{"p":"rraql","s":"d","x":103,"y":6.2},{"p":"rraql","s":"d","x":103.5,"y":6.6},{"p":"rraql","s":"d","x":104,"y":7.2},{"p":"rraql","s":"d","x":104.5,"y":6.5},{"p":"rraql","s":"d","x":105,"y":6.8},{"p":"rraql","s":"d","x":106,"y":6.3},{"p":"rraql","s":"d","x":107,"y":6.6},{"p":"rraql","s":"d","x":107.8,"y":14.3},{"p":"rraql","s":"d","x":108.2,"y":6.2},{"p":"rraql","s":"d","x":109,"y":6.4},{"p":"rraql","s":"d","x":110,"y":5.9},{"p":"rraql","s":"d","x":111,"y":6.2},{"p":"rraql","s":"d","x":112,"y":5.7},{"p":"rraql","s":"d","x":113.2,"y":13},{"p":"rraql","s":"d","x":113.6,"y":5.6},{"p":"rraql","s":"d","x":114.5,"y":5.9},{"p":"rraql","s":"d","x":115.5,"y":5.4},{"p":"rraql","s":"d","x":116.5,"y":5.7},{"p":"rraql","s":"d","x":117.5,"y":10.5},{"p":"rraql","s":"d","x":118,"y":5.2},{"p":"rraql","s":"d","x":119,"y":5.5},{"p":"rraql","s":"d","x":119.5,"y":10},{"p":"rraql","s":"d","x":120,"y":5.0},{"p":"rraql","s":"d","x":121,"y":5.3},{"p":"rraql","s":"d","x":122,"y":4.8},{"p":"rraql","s":"d","x":123,"y":5.1},{"p":"rraql","s":"d","x":124,"y":4.6},{"p":"rraql","s":"d","x":125,"y":9},{"p":"rraql","s":"d","x":125.5,"y":4.5},{"p":"rraql","s":"d","x":126.5,"y":4.7},{"p":"rraql","s":"d","x":127.5,"y":4.3},{"p":"rraql","s":"d","x":128.5,"y":4.5},{"p":"rraql","s":"d","x":129.5,"y":4.1},{"p":"rraql","s":"d","x":130.5,"y":4.3},{"p":"rraql","s":"d","x":131.5,"y":3.9},{"p":"rraql","s":"d","x":132.3,"y":9.5},{"p":"rraql","s":"d","x":132.7,"y":3.8},{"p":"rraql","s":"d","x":133.5,"y":4.0},{"p":"rraql","s":"d","x":134.5,"y":3.6},{"p":"rraql","s":"d","x":135.5,"y":3.8},{"p":"rraql","s":"d","x":136.5,"y":3.4},{"p":"rraql","s":"d","x":137.5,"y":3.6},{"p":"rraql","s":"d","x":138.2,"y":10.2},{"p":"rraql","s":"d","x":138.6,"y":3.2},{"p":"rraql","s":"d","x":139.5,"y":3.3},{"p":"rraql","s":"d","x":140.5,"y":2.9},{"p":"rraql","s":"d","x":141.5,"y":3.1},{"p":"rraql","s":"d","x":142.5,"y":2.7},{"p":"rraql","s":"d","x":143.3,"y":3.0},{"p":"rraql","s":"d","x":144,"y":6.5},{"p":"rraql","s":"d","x":144.3,"y":2.3},{"p":"rraql","s":"d","x":145,"y":3.0},{"p":"rraql","s":"d","x":145.5,"y":2.6},{"p":"rraql","s":"d","x":146,"y":4.6},{"p":"rraql","s":"d","x":146.5,"y":1.8},{"p":"rraql","s":"d","x":147,"y":3.2},

      {"p":"rtcap","s":"b","x":52,"y":2.6},{"p":"rtcap","s":"b","x":54.5,"y":2.6},{"p":"rtcap","s":"b","x":54.8,"y":0.005},{"p":"rtcap","s":"b","x":55.3,"y":3.0},{"p":"rtcap","s":"b","x":55.5,"y":4.8},{"p":"rtcap","s":"b","x":56,"y":3.5},{"p":"rtcap","s":"b","x":56.5,"y":5.0},{"p":"rtcap","s":"b","x":57,"y":3.0},{"p":"rtcap","s":"b","x":57.5,"y":4.5},{"p":"rtcap","s":"b","x":58,"y":3.8},{"p":"rtcap","s":"b","x":58.5,"y":5},{"p":"rtcap","s":"b","x":59,"y":3.2},{"p":"rtcap","s":"b","x":59.5,"y":4.6},{"p":"rtcap","s":"b","x":60,"y":3.4},{"p":"rtcap","s":"b","x":60.5,"y":4.8},{"p":"rtcap","s":"b","x":61,"y":2.8},{"p":"rtcap","s":"b","x":61.5,"y":4.2},{"p":"rtcap","s":"b","x":62,"y":3.0},{"p":"rtcap","s":"b","x":62.5,"y":2.2},{"p":"rtcap","s":"b","x":63,"y":3.5},{"p":"rtcap","s":"b","x":63.5,"y":4.0},{"p":"rtcap","s":"b","x":64,"y":2.6},{"p":"rtcap","s":"b","x":64.5,"y":3.8},{"p":"rtcap","s":"b","x":65,"y":3.0},{"p":"rtcap","s":"b","x":65.5,"y":4.2},{"p":"rtcap","s":"b","x":66,"y":2.5},{"p":"rtcap","s":"b","x":66.5,"y":3.6},{"p":"rtcap","s":"b","x":67,"y":2.8},{"p":"rtcap","s":"b","x":67.5,"y":3.3},{"p":"rtcap","s":"b","x":68,"y":2.0},{"p":"rtcap","s":"b","x":68.5,"y":3.2},{"p":"rtcap","s":"b","x":69,"y":1.8},{"p":"rtcap","s":"b","x":69.5,"y":2.8},{"p":"rtcap","s":"b","x":70,"y":2.4},{"p":"rtcap","s":"b","x":70.5,"y":3.4},{"p":"rtcap","s":"b","x":71,"y":2.6},{"p":"rtcap","s":"b","x":72,"y":3.0},{"p":"rtcap","s":"b","x":72.5,"y":8.5},{"p":"rtcap","s":"b","x":73,"y":2.8},
      {"p":"rtcap","s":"c","x":69,"y":2.0},{"p":"rtcap","s":"c","x":69.5,"y":3.5},{"p":"rtcap","s":"c","x":70,"y":9.9},{"p":"rtcap","s":"c","x":70.3,"y":1.5},{"p":"rtcap","s":"c","x":70.6,"y":0.45},{"p":"rtcap","s":"c","x":71,"y":2.5},{"p":"rtcap","s":"c","x":71.5,"y":3.5},{"p":"rtcap","s":"c","x":72,"y":1.4},{"p":"rtcap","s":"c","x":72.5,"y":2.8},{"p":"rtcap","s":"c","x":73,"y":1.0},{"p":"rtcap","s":"c","x":73.5,"y":2.5},{"p":"rtcap","s":"c","x":74,"y":1.7},{"p":"rtcap","s":"c","x":74.5,"y":3.0},{"p":"rtcap","s":"c","x":75,"y":1.2},{"p":"rtcap","s":"c","x":75.5,"y":2.8},{"p":"rtcap","s":"c","x":76,"y":0.9},{"p":"rtcap","s":"c","x":76.5,"y":2.2},{"p":"rtcap","s":"c","x":77,"y":3.5},{"p":"rtcap","s":"c","x":77.5,"y":1.5},{"p":"rtcap","s":"c","x":78,"y":2.8},{"p":"rtcap","s":"c","x":78.5,"y":1.2},{"p":"rtcap","s":"c","x":79,"y":3.3},{"p":"rtcap","s":"c","x":79.5,"y":0.6},{"p":"rtcap","s":"c","x":80,"y":2.6},{"p":"rtcap","s":"c","x":80.5,"y":1.5},{"p":"rtcap","s":"c","x":81,"y":3.8},{"p":"rtcap","s":"c","x":81.5,"y":1.0},{"p":"rtcap","s":"c","x":82,"y":2.5},{"p":"rtcap","s":"c","x":82.5,"y":1.3},{"p":"rtcap","s":"c","x":83,"y":2.2},{"p":"rtcap","s":"c","x":83.5,"y":0.8},{"p":"rtcap","s":"c","x":84,"y":2.0},{"p":"rtcap","s":"c","x":84.5,"y":0.3},{"p":"rtcap","s":"c","x":85,"y":1.6},{"p":"rtcap","s":"c","x":85.5,"y":0.7},{"p":"rtcap","s":"c","x":86,"y":2.4},{"p":"rtcap","s":"c","x":86.5,"y":0.25},{"p":"rtcap","s":"c","x":87,"y":1.5},{"p":"rtcap","s":"c","x":87.5,"y":0.5},{"p":"rtcap","s":"c","x":88,"y":1.8},{"p":"rtcap","s":"c","x":88.5,"y":0.9},{"p":"rtcap","s":"c","x":89,"y":2.0},{"p":"rtcap","s":"c","x":89.5,"y":0.15},{"p":"rtcap","s":"c","x":90,"y":1.5},{"p":"rtcap","s":"c","x":90.5,"y":0.3},{"p":"rtcap","s":"c","x":91,"y":0.085},{"p":"rtcap","s":"c","x":91.5,"y":1.2},{"p":"rtcap","s":"c","x":92,"y":0.4},{"p":"rtcap","s":"c","x":92.5,"y":1.6},{"p":"rtcap","s":"c","x":93,"y":0.2},{"p":"rtcap","s":"c","x":93.5,"y":1.2},{"p":"rtcap","s":"c","x":94,"y":3.0},{"p":"rtcap","s":"c","x":94.5,"y":0.14},{"p":"rtcap","s":"c","x":95,"y":16},{"p":"rtcap","s":"c","x":95.3,"y":0.5},
      {"p":"rtcap","s":"d","x":101.5,"y":0.9},{"p":"rtcap","s":"d","x":102,"y":8.1},{"p":"rtcap","s":"d","x":102.5,"y":4},{"p":"rtcap","s":"d","x":103,"y":2.5},{"p":"rtcap","s":"d","x":103.5,"y":1.8},{"p":"rtcap","s":"d","x":104,"y":1.2},{"p":"rtcap","s":"d","x":104.5,"y":0.6},{"p":"rtcap","s":"d","x":105,"y":1.5},{"p":"rtcap","s":"d","x":106,"y":1.1},{"p":"rtcap","s":"d","x":107,"y":1.3},{"p":"rtcap","s":"d","x":108,"y":0.9},{"p":"rtcap","s":"d","x":109,"y":1.2},{"p":"rtcap","s":"d","x":110,"y":0.8},{"p":"rtcap","s":"d","x":111,"y":1.1},{"p":"rtcap","s":"d","x":112,"y":0.7},{"p":"rtcap","s":"d","x":113,"y":1.0},{"p":"rtcap","s":"d","x":114,"y":0.75},{"p":"rtcap","s":"d","x":115,"y":1.0},{"p":"rtcap","s":"d","x":116,"y":0.6},{"p":"rtcap","s":"d","x":117,"y":0.9},{"p":"rtcap","s":"d","x":118,"y":0.5},{"p":"rtcap","s":"d","x":119,"y":0.85},{"p":"rtcap","s":"d","x":120,"y":0.7},{"p":"rtcap","s":"d","x":121,"y":0.9},{"p":"rtcap","s":"d","x":122,"y":0.45},{"p":"rtcap","s":"d","x":123,"y":0.8},{"p":"rtcap","s":"d","x":124,"y":0.6},{"p":"rtcap","s":"d","x":125,"y":0.85},{"p":"rtcap","s":"d","x":126,"y":0.5},{"p":"rtcap","s":"d","x":127,"y":0.8},{"p":"rtcap","s":"d","x":128,"y":0.35},{"p":"rtcap","s":"d","x":129,"y":0.7},{"p":"rtcap","s":"d","x":130,"y":0.6},{"p":"rtcap","s":"d","x":131,"y":0.8},{"p":"rtcap","s":"d","x":132,"y":0.45},{"p":"rtcap","s":"d","x":133,"y":0.75},{"p":"rtcap","s":"d","x":134,"y":0.25},{"p":"rtcap","s":"d","x":135,"y":0.8},{"p":"rtcap","s":"d","x":136,"y":0.5},{"p":"rtcap","s":"d","x":137,"y":0.9},{"p":"rtcap","s":"d","x":138,"y":0.45},{"p":"rtcap","s":"d","x":139,"y":0.9},{"p":"rtcap","s":"d","x":140,"y":0.3},{"p":"rtcap","s":"d","x":141,"y":0.8},{"p":"rtcap","s":"d","x":142,"y":0.55},{"p":"rtcap","s":"d","x":143,"y":0.9},{"p":"rtcap","s":"d","x":144,"y":0.35},{"p":"rtcap","s":"d","x":144.5,"y":0.7},{"p":"rtcap","s":"d","x":145,"y":0.2},{"p":"rtcap","s":"d","x":145.5,"y":0.5},{"p":"rtcap","s":"d","x":146,"y":0.6},{"p":"rtcap","s":"d","x":146.5,"y":0.022},{"p":"rtcap","s":"d","x":147,"y":0.4},
      {"p":"rtcap","s":"e","x":143,"y":0.4},{"p":"rtcap","s":"e","x":143.5,"y":0.6},{"p":"rtcap","s":"e","x":144,"y":1.0},{"p":"rtcap","s":"e","x":144.5,"y":0.3},{"p":"rtcap","s":"e","x":145,"y":0.15},{"p":"rtcap","s":"e","x":145.5,"y":0.8},{"p":"rtcap","s":"e","x":146,"y":0.9},{"p":"rtcap","s":"e","x":146.5,"y":0.2},{"p":"rtcap","s":"e","x":147,"y":0.3},{"p":"rtcap","s":"e","x":147.5,"y":0.9},{"p":"rtcap","s":"e","x":148,"y":1.2},{"p":"rtcap","s":"e","x":148.5,"y":0.4},{"p":"rtcap","s":"e","x":149,"y":0.1},{"p":"rtcap","s":"e","x":149.5,"y":1.0},{"p":"rtcap","s":"e","x":150,"y":0.8},{"p":"rtcap","s":"e","x":150.5,"y":0.3},{"p":"rtcap","s":"e","x":151,"y":0.2},{"p":"rtcap","s":"e","x":151.5,"y":0.9},{"p":"rtcap","s":"e","x":152,"y":1.1},{"p":"rtcap","s":"e","x":152.5,"y":0.2},{"p":"rtcap","s":"e","x":153,"y":0.05},{"p":"rtcap","s":"e","x":153.5,"y":1.0},{"p":"rtcap","s":"e","x":154,"y":0.7},{"p":"rtcap","s":"e","x":154.5,"y":0.1},{"p":"rtcap","s":"e","x":155,"y":0.25},{"p":"rtcap","s":"e","x":155.5,"y":0.9},{"p":"rtcap","s":"e","x":156,"y":1.3},{"p":"rtcap","s":"e","x":156.5,"y":0.3},{"p":"rtcap","s":"e","x":157,"y":0.02},{"p":"rtcap","s":"e","x":157.5,"y":1.1},{"p":"rtcap","s":"e","x":158,"y":0.9},{"p":"rtcap","s":"e","x":158.5,"y":0.4},{"p":"rtcap","s":"e","x":159,"y":0.15},{"p":"rtcap","s":"e","x":159.5,"y":0.9},{"p":"rtcap","s":"e","x":160,"y":1.2},{"p":"rtcap","s":"e","x":160.5,"y":0.1},{"p":"rtcap","s":"e","x":161,"y":0.04},{"p":"rtcap","s":"e","x":161.5,"y":1.0},{"p":"rtcap","s":"e","x":162,"y":0.8},{"p":"rtcap","s":"e","x":162.5,"y":0.3},{"p":"rtcap","s":"e","x":163,"y":0.008},{"p":"rtcap","s":"e","x":163.5,"y":0.7},{"p":"rtcap","s":"e","x":164,"y":1.1},{"p":"rtcap","s":"e","x":164.5,"y":0.05},{"p":"rtcap","s":"e","x":165,"y":0.1},{"p":"rtcap","s":"e","x":165.5,"y":1.2},{"p":"rtcap","s":"e","x":166,"y":0.7},{"p":"rtcap","s":"e","x":166.5,"y":0.2},{"p":"rtcap","s":"e","x":167,"y":0.002},{"p":"rtcap","s":"e","x":167.5,"y":0.8},{"p":"rtcap","s":"e","x":168,"y":0.9},{"p":"rtcap","s":"e","x":168.5,"y":0.00038},{"p":"rtcap","s":"e","x":169,"y":1.0},{"p":"rtcap","s":"e","x":169.5,"y":0.2},{"p":"rtcap","s":"e","x":170,"y":0.05},{"p":"rtcap","s":"e","x":170.5,"y":0.9},{"p":"rtcap","s":"e","x":171,"y":1.4},{"p":"rtcap","s":"e","x":171.5,"y":0.3},{"p":"rtcap","s":"e","x":172,"y":0.15},{"p":"rtcap","s":"e","x":172.5,"y":1.0},{"p":"rtcap","s":"e","x":173,"y":0.8},{"p":"rtcap","s":"e","x":173.5,"y":0.05},{"p":"rtcap","s":"e","x":174,"y":0.01},{"p":"rtcap","s":"e","x":174.5,"y":0.9},{"p":"rtcap","s":"e","x":175,"y":1.5},{"p":"rtcap","s":"e","x":175.5,"y":0.2},{"p":"rtcap","s":"e","x":176,"y":0.06},{"p":"rtcap","s":"e","x":176.5,"y":1.1},{"p":"rtcap","s":"e","x":177,"y":0.9},{"p":"rtcap","s":"e","x":177.5,"y":0.1},{"p":"rtcap","s":"e","x":178,"y":0.003},{"p":"rtcap","s":"e","x":178.5,"y":0.8},{"p":"rtcap","s":"e","x":179,"y":1.1},{"p":"rtcap","s":"e","x":179.5,"y":0.03},{"p":"rtcap","s":"e","x":180,"y":0.008},{"p":"rtcap","s":"e","x":180.5,"y":1.0},{"p":"rtcap","s":"e","x":181,"y":0.7},{"p":"rtcap","s":"e","x":181.5,"y":0.1},{"p":"rtcap","s":"e","x":182,"y":0.02},{"p":"rtcap","s":"e","x":182.5,"y":0.9},{"p":"rtcap","s":"e","x":183,"y":0.6},{"p":"rtcap","s":"e","x":183.5,"y":0.04},{"p":"rtcap","s":"e","x":184,"y":0.005},{"p":"rtcap","s":"e","x":184.5,"y":0.8},{"p":"rtcap","s":"e","x":185,"y":0.9},{"p":"rtcap","s":"e","x":185.5,"y":0.2},{"p":"rtcap","s":"e","x":186,"y":0.05},{"p":"rtcap","s":"e","x":186.5,"y":1.0},{"p":"rtcap","s":"e","x":187,"y":1.2},{"p":"rtcap","s":"e","x":187.5,"y":0.08},{"p":"rtcap","s":"e","x":188,"y":0.015},{"p":"rtcap","s":"e","x":188.5,"y":0.9},{"p":"rtcap","s":"e","x":189,"y":0.6},{"p":"rtcap","s":"e","x":189.5,"y":0.003},{"p":"rtcap","s":"e","x":190,"y":3.3},{"p":"rtcap","s":"e","x":190.3,"y":0.05}
    ],
    "phot": [
      {"p":"rdor","k":"IRAS QF:3|1","x":12,"y":5100},{"p":"rdor","k":"IRAS QF:3|2","x":25,"y":1570},{"p":"rdor","k":"IRAS QF:3|3","x":60,"y":243},{"p":"rdor","k":"IRAS QF:3|4","x":100,"y":82},{"p":"rdor","k":"AKARI QF:3|1","x":65,"y":205},{"p":"rdor","k":"AKARI QF:3|2","x":90,"y":107},{"p":"rdor","k":"AKARI QF:3|3","x":140,"y":31.5},{"p":"rdor","k":"AKARI QF:3|4","x":160,"y":25.4},
      {"p":"rlep","k":"IRAS QF:3|1","x":12,"y":384},{"p":"rlep","k":"IRAS QF:3|2","x":25,"y":117},{"p":"rlep","k":"IRAS QF:3|3","x":60,"y":26},{"p":"rlep","k":"IRAS QF:2|1","x":100,"y":9.1},{"p":"rlep","k":"AKARI QF:3|1","x":65,"y":16.1},{"p":"rlep","k":"AKARI QF:3|2","x":90,"y":11.9},{"p":"rlep","k":"AKARI QF:3|3","x":140,"y":2.77},{"p":"rlep","k":"AKARI QF:1|1","x":160,"y":0.51},
      {"p":"afgl","k":"IRAS QF:3|1","x":12,"y":127},{"p":"afgl","k":"IRAS QF:3|2","x":25,"y":153},{"p":"afgl","k":"IRAS QF:3|3","x":60,"y":41},{"p":"afgl","k":"IRAS QF:3|4","x":100,"y":9.7},{"p":"afgl","k":"AKARI QF:3|1","x":65,"y":31},{"p":"afgl","k":"AKARI QF:3|2","x":90,"y":24},{"p":"afgl","k":"AKARI QF:3|3","x":140,"y":5.3},{"p":"afgl","k":"AKARI QF:1|1","x":160,"y":4.5},
      {"p":"rrec","k":"IRAS QF:3|1","x":12,"y":422},{"p":"rrec","k":"IRAS QF:3|2","x":25,"y":454},{"p":"rrec","k":"IRAS QF:3|3","x":60,"y":172},{"p":"rrec","k":"IRAS QF:3|4","x":100,"y":66},{"p":"rrec","k":"AKARI QF:3|1","x":65,"y":139},{"p":"rrec","k":"AKARI QF:3|2","x":90,"y":95},{"p":"rrec","k":"AKARI QF:1|1","x":140,"y":36},{"p":"rrec","k":"AKARI QF:3|3","x":160,"y":27.9},
      {"p":"rraql","k":"IRAS QF:3|1","x":12,"y":328},{"p":"rraql","k":"IRAS QF:3|2","x":25,"y":152},{"p":"rraql","k":"IRAS QF:3|3","x":60,"y":27.4},{"p":"rraql","k":"IRAS QF:3|4","x":100,"y":10.2},{"p":"rraql","k":"AKARI QF:3|1","x":65,"y":24.4},{"p":"rraql","k":"AKARI QF:1|1","x":90,"y":16.7},{"p":"rraql","k":"AKARI QF:1|2","x":140,"y":4.8},{"p":"rraql","k":"AKARI QF:1|3","x":160,"y":1.38},
      {"p":"rtcap","k":"IRAS QF:3|1","x":12,"y":73},{"p":"rtcap","k":"IRAS QF:3|2","x":25,"y":20.8},{"p":"rtcap","k":"IRAS QF:3|3","x":60,"y":4.5},{"p":"rtcap","k":"IRAS QF:3|4","x":100,"y":3.67},{"p":"rtcap","k":"AKARI QF:3|1","x":65,"y":3.35},{"p":"rtcap","k":"AKARI QF:3|2","x":90,"y":2.66},{"p":"rtcap","k":"AKARI QF:1|1","x":140,"y":0.096},{"p":"rtcap","k":"AKARI QF:1|2","x":160,"y":3.81}
    ]
  },
  "config": {
    "view": {"stroke": "black", "strokeWidth": 1},
    "axis": {"domain": false, "grid": false, "tickColor": "black", "tickWidth": 1, "labelFont": "DejaVu Sans", "labelFontSize": 13, "labelColor": "black", "labelFlush": false, "labelOverlap": false, "labelBound": false, "titleFont": "Liberation Serif", "titleFontSize": 20, "titleFontWeight": "normal", "titleColor": "black"},
    "axisX": {"tickSize": -4, "labelPadding": 10, "titlePadding": 4},
    "axisY": {"labelPadding": 10, "titlePadding": 1},
    "title": {"font": "Liberation Serif", "fontSize": 22, "fontWeight": "normal", "color": "black", "offset": -7, "frame": "group", "anchor": "middle"},
    "legend": {"labelFont": "DejaVu Sans", "labelFontSize": 15, "labelColor": "black", "symbolSize": 26, "symbolOffset": 10.5, "labelOffset": 18.4, "rowPadding": 5.65, "padding": 5, "strokeColor": "black", "fillColor": "white", "cornerRadius": 0, "offset": 7, "symbolStrokeColor": "black", "symbolStrokeWidth": 0.5}
  },
  "concat": [
    {
      "title": "R Dor", "width": 462, "height": 358,
      "resolve": {"axis": {"x": "independent", "y": "independent"}},
      "layer": [
        {"data": {"name": "spec"}, "transform": [{"filter": "datum.p === 'rdor'"}],
         "mark": {"type": "line", "strokeWidth": 1, "clip": true},
         "encoding": {
           "x": {"field": "x", "type": "quantitative", "scale": {"domain": [0, 250]}, "axis": {"orient": "bottom", "values": [0,50,100,150,200,250], "title": "Wavelength (μm)"}},
           "y": {"field": "y", "type": "quantitative", "scale": {"type": "log", "domain": [0.1, 10000]}, "axis": {"orient": "left", "title": "Flux (Jy)", "values": [0.1,0.2,0.3,0.4,0.5,0.6,0.7,0.8,0.9,1,2,3,4,5,6,7,8,9,10,20,30,40,50,60,70,80,90,100,200,300,400,500,600,700,800,900,1000,2000,3000,4000,5000,6000,7000,8000,9000,10000], "labelExpr": "abs(log(datum.value)/LN10-round(log(datum.value)/LN10))<0.001?'10'+['⁻⁴','⁻³','⁻²','⁻¹','⁰','¹','²','³','⁴'][round(log(datum.value)/LN10)+4]:''", "tickSize": {"expr": "datum && datum.value && abs(log(datum.value)/LN10-round(log(datum.value)/LN10))>0.001 ? -2 : -4"}}},
           "stroke": {"field": "s", "type": "nominal", "scale": {"domain": ["a","b","c","d","e"], "range": ["#000000","#bfbf00","#ff0000","#008000","#40e0d0"]}, "legend": null}
         }},
        {"data": {"name": "phot"}, "transform": [{"filter": "datum.p === 'rdor'"}],
         "mark": {"type": "point", "filled": true, "size": 42, "stroke": "black", "strokeWidth": 0.5, "opacity": 1, "clip": true},
         "encoding": {
           "x": {"field": "x", "type": "quantitative", "scale": {"domain": [0, 250]}, "axis": {"orient": "top", "values": [0,50,100,150,200,250], "labels": false, "title": null}},
           "y": {"field": "y", "type": "quantitative", "scale": {"type": "log", "domain": [0.1, 10000]}, "axis": {"orient": "right", "title": null, "labels": false, "values": [0.1,0.2,0.3,0.4,0.5,0.6,0.7,0.8,0.9,1,2,3,4,5,6,7,8,9,10,20,30,40,50,60,70,80,90,100,200,300,400,500,600,700,800,900,1000,2000,3000,4000,5000,6000,7000,8000,9000,10000], "tickSize": {"expr": "datum && datum.value && abs(log(datum.value)/LN10-round(log(datum.value)/LN10))>0.001 ? -2 : -4"}}},
           "color": {"field": "k", "type": "nominal", "scale": {"domain": ["ISO-LWS","IRAS QF:3|1","IRAS QF:3|2","IRAS QF:3|3","IRAS QF:3|4","AKARI QF:3|1","AKARI QF:3|2","AKARI QF:3|3","AKARI QF:3|4"], "range": ["#000000","#ff0000","#ff0000","#ff0000","#ff0000","#0000ff","#0000ff","#0000ff","#0000ff"]},
             "legend": {"title": null, "orient": "bottom-left", "labelExpr": "split(datum.value,'|')[0]"}},
           "shape": {"field": "k", "type": "nominal", "scale": {"domain": ["ISO-LWS","IRAS QF:3|1","IRAS QF:3|2","IRAS QF:3|3","IRAS QF:3|4","AKARI QF:3|1","AKARI QF:3|2","AKARI QF:3|3","AKARI QF:3|4"], "range": ["M-6.1,-0.2H6.1V0.2H-6.1Z","circle","circle","circle","circle","circle","circle","circle","circle"]},
             "legend": {"title": null, "orient": "bottom-left", "labelExpr": "split(datum.value,'|')[0]"}}
         }}
      ]
    },
    {
      "title": "R Lep", "width": 462, "height": 358,
      "resolve": {"axis": {"x": "independent", "y": "independent"}},
      "layer": [
        {"data": {"name": "spec"}, "transform": [{"filter": "datum.p === 'rlep'"}],
         "mark": {"type": "line", "strokeWidth": 1, "clip": true},
         "encoding": {
           "x": {"field": "x", "type": "quantitative", "scale": {"domain": [0, 200]}, "axis": {"orient": "bottom", "values": [0,50,100,150,200], "title": "Wavelength (μm)"}},
           "y": {"field": "y", "type": "quantitative", "scale": {"type": "log", "domain": [0.1, 1000]}, "axis": {"orient": "left", "title": "Flux (Jy)", "values": [0.1,0.2,0.3,0.4,0.5,0.6,0.7,0.8,0.9,1,2,3,4,5,6,7,8,9,10,20,30,40,50,60,70,80,90,100,200,300,400,500,600,700,800,900,1000], "labelExpr": "abs(log(datum.value)/LN10-round(log(datum.value)/LN10))<0.001?'10'+['⁻⁴','⁻³','⁻²','⁻¹','⁰','¹','²','³','⁴'][round(log(datum.value)/LN10)+4]:''", "tickSize": {"expr": "datum && datum.value && abs(log(datum.value)/LN10-round(log(datum.value)/LN10))>0.001 ? -2 : -4"}}},
           "stroke": {"field": "s", "type": "nominal", "scale": {"domain": ["a","b","c","d","e"], "range": ["#000000","#bfbf00","#ff0000","#008000","#40e0d0"]}, "legend": null}
         }},
        {"data": {"name": "phot"}, "transform": [{"filter": "datum.p === 'rlep'"}],
         "mark": {"type": "point", "filled": true, "size": 42, "stroke": "black", "strokeWidth": 0.5, "opacity": 1, "clip": true},
         "encoding": {
           "x": {"field": "x", "type": "quantitative", "scale": {"domain": [0, 200]}, "axis": {"orient": "top", "values": [0,50,100,150,200], "labels": false, "title": null}},
           "y": {"field": "y", "type": "quantitative", "scale": {"type": "log", "domain": [0.1, 1000]}, "axis": {"orient": "right", "title": null, "labels": false, "values": [0.1,0.2,0.3,0.4,0.5,0.6,0.7,0.8,0.9,1,2,3,4,5,6,7,8,9,10,20,30,40,50,60,70,80,90,100,200,300,400,500,600,700,800,900,1000], "tickSize": {"expr": "datum && datum.value && abs(log(datum.value)/LN10-round(log(datum.value)/LN10))>0.001 ? -2 : -4"}}},
           "color": {"field": "k", "type": "nominal", "scale": {"domain": ["IRAS QF:3|1","IRAS QF:3|2","IRAS QF:3|3","IRAS QF:2|1","AKARI QF:3|1","AKARI QF:3|2","AKARI QF:3|3","AKARI QF:1|1"], "range": ["#ff0000","#ff0000","#ff0000","#ff0000","#0000ff","#0000ff","#0000ff","#0000ff"]},
             "legend": {"title": null, "orient": "bottom-left", "labelExpr": "split(datum.value,'|')[0]"}},
           "shape": {"field": "k", "type": "nominal", "scale": {"domain": ["IRAS QF:3|1","IRAS QF:3|2","IRAS QF:3|3","IRAS QF:2|1","AKARI QF:3|1","AKARI QF:3|2","AKARI QF:3|3","AKARI QF:1|1"], "range": ["circle","circle","circle","square","circle","circle","circle","triangle-down"]},
             "legend": {"title": null, "orient": "bottom-left", "labelExpr": "split(datum.value,'|')[0]"}}
         }}
      ]
    },
    {
      "title": "RAFGL 2374", "width": 462, "height": 358,
      "resolve": {"axis": {"x": "independent", "y": "independent"}},
      "layer": [
        {"data": {"name": "spec"}, "transform": [{"filter": "datum.p === 'afgl'"}],
         "mark": {"type": "line", "strokeWidth": 1, "clip": true},
         "encoding": {
           "x": {"field": "x", "type": "quantitative", "scale": {"domain": [0, 160]}, "axis": {"orient": "bottom", "values": [0,20,40,60,80,100,120,140,160], "title": "Wavelength (μm)"}},
           "y": {"field": "y", "type": "quantitative", "scale": {"type": "log", "domain": [1, 1000]}, "axis": {"orient": "left", "title": "Flux (Jy)", "values": [1,2,3,4,5,6,7,8,9,10,20,30,40,50,60,70,80,90,100,200,300,400,500,600,700,800,900,1000], "labelExpr": "abs(log(datum.value)/LN10-round(log(datum.value)/LN10))<0.001?'10'+['⁻⁴','⁻³','⁻²','⁻¹','⁰','¹','²','³','⁴'][round(log(datum.value)/LN10)+4]:''", "tickSize": {"expr": "datum && datum.value && abs(log(datum.value)/LN10-round(log(datum.value)/LN10))>0.001 ? -2 : -4"}}},
           "stroke": {"field": "s", "type": "nominal", "scale": {"domain": ["a","b","c","d","e"], "range": ["#000000","#bfbf00","#ff0000","#008000","#40e0d0"]}, "legend": null}
         }},
        {"data": {"name": "phot"}, "transform": [{"filter": "datum.p === 'afgl'"}],
         "mark": {"type": "point", "filled": true, "size": 42, "stroke": "black", "strokeWidth": 0.5, "opacity": 1, "clip": true},
         "encoding": {
           "x": {"field": "x", "type": "quantitative", "scale": {"domain": [0, 160]}, "axis": {"orient": "top", "values": [0,20,40,60,80,100,120,140,160], "labels": false, "title": null}},
           "y": {"field": "y", "type": "quantitative", "scale": {"type": "log", "domain": [1, 1000]}, "axis": {"orient": "right", "title": null, "labels": false, "values": [1,2,3,4,5,6,7,8,9,10,20,30,40,50,60,70,80,90,100,200,300,400,500,600,700,800,900,1000], "tickSize": {"expr": "datum && datum.value && abs(log(datum.value)/LN10-round(log(datum.value)/LN10))>0.001 ? -2 : -4"}}},
           "color": {"field": "k", "type": "nominal", "scale": {"domain": ["IRAS QF:3|1","IRAS QF:3|2","IRAS QF:3|3","IRAS QF:3|4","AKARI QF:3|1","AKARI QF:3|2","AKARI QF:3|3","AKARI QF:1|1"], "range": ["#ff0000","#ff0000","#ff0000","#ff0000","#0000ff","#0000ff","#0000ff","#0000ff"]},
             "legend": {"title": null, "orient": "top-right", "offset": 8, "labelExpr": "split(datum.value,'|')[0]"}},
           "shape": {"field": "k", "type": "nominal", "scale": {"domain": ["IRAS QF:3|1","IRAS QF:3|2","IRAS QF:3|3","IRAS QF:3|4","AKARI QF:3|1","AKARI QF:3|2","AKARI QF:3|3","AKARI QF:1|1"], "range": ["circle","circle","circle","circle","circle","circle","circle","triangle-down"]},
             "legend": {"title": null, "orient": "top-right", "offset": 8, "labelExpr": "split(datum.value,'|')[0]"}}
         }}
      ]
    },
    {
      "title": "Red Rectangle", "width": 462, "height": 358,
      "resolve": {"axis": {"x": "independent", "y": "independent"}},
      "layer": [
        {"data": {"name": "spec"}, "transform": [{"filter": "datum.p === 'rrec'"}],
         "mark": {"type": "line", "strokeWidth": 1, "clip": true},
         "encoding": {
           "x": {"field": "x", "type": "quantitative", "scale": {"domain": [0, 250]}, "axis": {"orient": "bottom", "values": [0,50,100,150,200,250], "title": "Wavelength (μm)"}},
           "y": {"field": "y", "type": "quantitative", "scale": {"type": "log", "domain": [10, 1000]}, "axis": {"orient": "left", "title": "Flux (Jy)", "values": [10,20,30,40,50,60,70,80,90,100,200,300,400,500,600,700,800,900,1000], "labelExpr": "abs(log(datum.value)/LN10-round(log(datum.value)/LN10))<0.001?'10'+['⁻⁴','⁻³','⁻²','⁻¹','⁰','¹','²','³','⁴'][round(log(datum.value)/LN10)+4]:''", "tickSize": {"expr": "datum && datum.value && abs(log(datum.value)/LN10-round(log(datum.value)/LN10))>0.001 ? -2 : -4"}}},
           "stroke": {"field": "s", "type": "nominal", "scale": {"domain": ["a","b","c","d","e"], "range": ["#000000","#bfbf00","#ff0000","#008000","#40e0d0"]}, "legend": null}
         }},
        {"data": {"name": "phot"}, "transform": [{"filter": "datum.p === 'rrec'"}],
         "mark": {"type": "point", "filled": true, "size": 42, "stroke": "black", "strokeWidth": 0.5, "opacity": 1, "clip": true},
         "encoding": {
           "x": {"field": "x", "type": "quantitative", "scale": {"domain": [0, 250]}, "axis": {"orient": "top", "values": [0,50,100,150,200,250], "labels": false, "title": null}},
           "y": {"field": "y", "type": "quantitative", "scale": {"type": "log", "domain": [10, 1000]}, "axis": {"orient": "right", "title": null, "labels": false, "values": [10,20,30,40,50,60,70,80,90,100,200,300,400,500,600,700,800,900,1000], "tickSize": {"expr": "datum && datum.value && abs(log(datum.value)/LN10-round(log(datum.value)/LN10))>0.001 ? -2 : -4"}}},
           "color": {"field": "k", "type": "nominal", "scale": {"domain": ["ISO-LWS","IRAS QF:3|1","IRAS QF:3|2","IRAS QF:3|3","IRAS QF:3|4","AKARI QF:3|1","AKARI QF:3|2","AKARI QF:1|1","AKARI QF:3|3"], "range": ["#000000","#ff0000","#ff0000","#ff0000","#ff0000","#0000ff","#0000ff","#0000ff","#0000ff"]},
             "legend": {"title": null, "orient": "top-right", "offset": 8, "labelExpr": "split(datum.value,'|')[0]"}},
           "shape": {"field": "k", "type": "nominal", "scale": {"domain": ["ISO-LWS","IRAS QF:3|1","IRAS QF:3|2","IRAS QF:3|3","IRAS QF:3|4","AKARI QF:3|1","AKARI QF:3|2","AKARI QF:1|1","AKARI QF:3|3"], "range": ["M-6.1,-0.2H6.1V0.2H-6.1Z","circle","circle","circle","circle","circle","circle","triangle-down","circle"]},
             "legend": {"title": null, "orient": "top-right", "offset": 8, "labelExpr": "split(datum.value,'|')[0]"}}
         }}
      ]
    },
    {
      "title": "RR Aql", "width": 462, "height": 358,
      "resolve": {"axis": {"x": "independent", "y": "independent"}},
      "layer": [
        {"data": {"name": "spec"}, "transform": [{"filter": "datum.p === 'rraql'"}],
         "mark": {"type": "line", "strokeWidth": 1, "clip": true},
         "encoding": {
           "x": {"field": "x", "type": "quantitative", "scale": {"domain": [0, 160]}, "axis": {"orient": "bottom", "values": [0,20,40,60,80,100,120,140,160], "title": "Wavelength (μm)"}},
           "y": {"field": "y", "type": "quantitative", "scale": {"type": "log", "domain": [1, 1000]}, "axis": {"orient": "left", "title": "Flux (Jy)", "values": [1,2,3,4,5,6,7,8,9,10,20,30,40,50,60,70,80,90,100,200,300,400,500,600,700,800,900,1000], "labelExpr": "abs(log(datum.value)/LN10-round(log(datum.value)/LN10))<0.001?'10'+['⁻⁴','⁻³','⁻²','⁻¹','⁰','¹','²','³','⁴'][round(log(datum.value)/LN10)+4]:''", "tickSize": {"expr": "datum && datum.value && abs(log(datum.value)/LN10-round(log(datum.value)/LN10))>0.001 ? -2 : -4"}}},
           "stroke": {"field": "s", "type": "nominal", "scale": {"domain": ["a","b","c","d","e"], "range": ["#000000","#bfbf00","#ff0000","#008000","#40e0d0"]}, "legend": null}
         }},
        {"data": {"name": "phot"}, "transform": [{"filter": "datum.p === 'rraql'"}],
         "mark": {"type": "point", "filled": true, "size": 42, "stroke": "black", "strokeWidth": 0.5, "opacity": 1, "clip": true},
         "encoding": {
           "x": {"field": "x", "type": "quantitative", "scale": {"domain": [0, 160]}, "axis": {"orient": "top", "values": [0,20,40,60,80,100,120,140,160], "labels": false, "title": null}},
           "y": {"field": "y", "type": "quantitative", "scale": {"type": "log", "domain": [1, 1000]}, "axis": {"orient": "right", "title": null, "labels": false, "values": [1,2,3,4,5,6,7,8,9,10,20,30,40,50,60,70,80,90,100,200,300,400,500,600,700,800,900,1000], "tickSize": {"expr": "datum && datum.value && abs(log(datum.value)/LN10-round(log(datum.value)/LN10))>0.001 ? -2 : -4"}}},
           "color": {"field": "k", "type": "nominal", "scale": {"domain": ["IRAS QF:3|1","IRAS QF:3|2","IRAS QF:3|3","IRAS QF:3|4","AKARI QF:3|1","AKARI QF:1|1","AKARI QF:1|2","AKARI QF:1|3"], "range": ["#ff0000","#ff0000","#ff0000","#ff0000","#0000ff","#0000ff","#0000ff","#0000ff"]},
             "legend": {"title": null, "orient": "top-right", "offset": 8, "labelExpr": "split(datum.value,'|')[0]"}},
           "shape": {"field": "k", "type": "nominal", "scale": {"domain": ["IRAS QF:3|1","IRAS QF:3|2","IRAS QF:3|3","IRAS QF:3|4","AKARI QF:3|1","AKARI QF:1|1","AKARI QF:1|2","AKARI QF:1|3"], "range": ["circle","circle","circle","circle","circle","triangle-down","triangle-down","triangle-down"]},
             "legend": {"title": null, "orient": "top-right", "offset": 8, "labelExpr": "split(datum.value,'|')[0]"}}
         }}
      ]
    },
    {
      "title": "RT Cap", "width": 462, "height": 358,
      "resolve": {"axis": {"x": "independent", "y": "independent"}},
      "layer": [
        {"data": {"name": "spec"}, "transform": [{"filter": "datum.p === 'rtcap'"}],
         "mark": {"type": "line", "strokeWidth": 1, "clip": true},
         "encoding": {
           "x": {"field": "x", "type": "quantitative", "scale": {"domain": [0, 200]}, "axis": {"orient": "bottom", "values": [0,50,100,150,200], "title": "Wavelength (μm)"}},
           "y": {"field": "y", "type": "quantitative", "scale": {"type": "log", "domain": [0.0001, 100]}, "axis": {"orient": "left", "title": "Flux (Jy)", "values": [0.0001,0.0002,0.0003,0.0004,0.0005,0.0006,0.0007,0.0008,0.0009,0.001,0.002,0.003,0.004,0.005,0.006,0.007,0.008,0.009,0.01,0.02,0.03,0.04,0.05,0.06,0.07,0.08,0.09,0.1,0.2,0.3,0.4,0.5,0.6,0.7,0.8,0.9,1,2,3,4,5,6,7,8,9,10,20,30,40,50,60,70,80,90,100], "labelExpr": "abs(log(datum.value)/LN10-round(log(datum.value)/LN10))<0.001?'10'+['⁻⁴','⁻³','⁻²','⁻¹','⁰','¹','²','³','⁴'][round(log(datum.value)/LN10)+4]:''", "tickSize": {"expr": "datum && datum.value && abs(log(datum.value)/LN10-round(log(datum.value)/LN10))>0.001 ? -2 : -4"}}},
           "stroke": {"field": "s", "type": "nominal", "scale": {"domain": ["a","b","c","d","e"], "range": ["#000000","#bfbf00","#ff0000","#008000","#40e0d0"]}, "legend": null}
         }},
        {"data": {"name": "phot"}, "transform": [{"filter": "datum.p === 'rtcap'"}],
         "mark": {"type": "point", "filled": true, "size": 42, "stroke": "black", "strokeWidth": 0.5, "opacity": 1, "clip": true},
         "encoding": {
           "x": {"field": "x", "type": "quantitative", "scale": {"domain": [0, 200]}, "axis": {"orient": "top", "values": [0,50,100,150,200], "labels": false, "title": null}},
           "y": {"field": "y", "type": "quantitative", "scale": {"type": "log", "domain": [0.0001, 100]}, "axis": {"orient": "right", "title": null, "labels": false, "values": [0.0001,0.0002,0.0003,0.0004,0.0005,0.0006,0.0007,0.0008,0.0009,0.001,0.002,0.003,0.004,0.005,0.006,0.007,0.008,0.009,0.01,0.02,0.03,0.04,0.05,0.06,0.07,0.08,0.09,0.1,0.2,0.3,0.4,0.5,0.6,0.7,0.8,0.9,1,2,3,4,5,6,7,8,9,10,20,30,40,50,60,70,80,90,100], "tickSize": {"expr": "datum && datum.value && abs(log(datum.value)/LN10-round(log(datum.value)/LN10))>0.001 ? -2 : -4"}}},
           "color": {"field": "k", "type": "nominal", "scale": {"domain": ["IRAS QF:3|1","IRAS QF:3|2","IRAS QF:3|3","IRAS QF:3|4","AKARI QF:3|1","AKARI QF:3|2","AKARI QF:1|1","AKARI QF:1|2"], "range": ["#ff0000","#ff0000","#ff0000","#ff0000","#0000ff","#0000ff","#0000ff","#0000ff"]},
             "legend": {"title": null, "orient": "bottom-left", "labelExpr": "split(datum.value,'|')[0]"}},
           "shape": {"field": "k", "type": "nominal", "scale": {"domain": ["IRAS QF:3|1","IRAS QF:3|2","IRAS QF:3|3","IRAS QF:3|4","AKARI QF:3|1","AKARI QF:3|2","AKARI QF:1|1","AKARI QF:1|2"], "range": ["circle","circle","circle","circle","circle","circle","triangle-down","triangle-down"]},
             "legend": {"title": null, "orient": "bottom-left", "labelExpr": "split(datum.value,'|')[0]"}}
         }}
      ]
    }
  ]
}
